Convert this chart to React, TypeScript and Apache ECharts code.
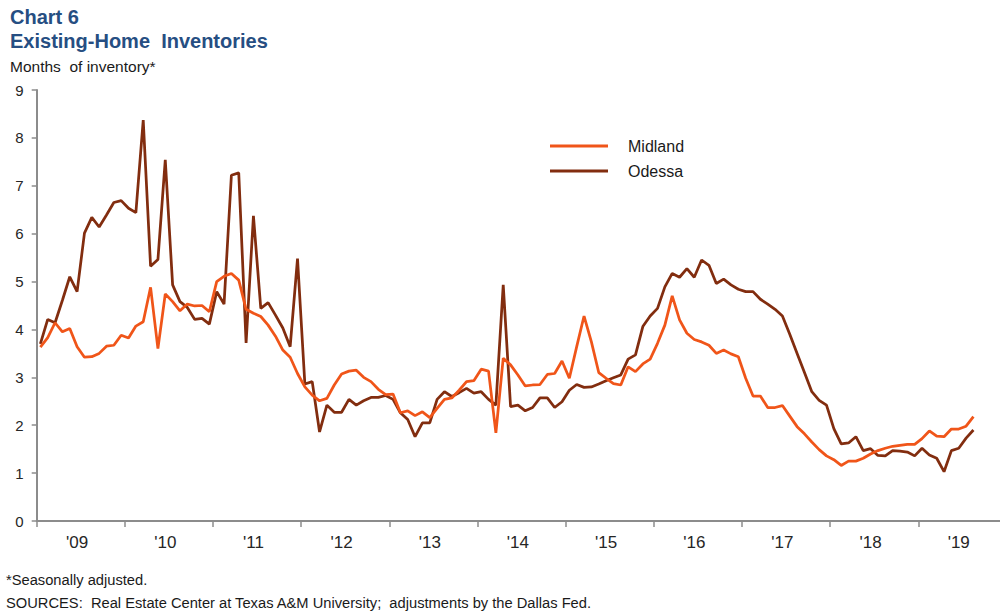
import React, { useEffect, useRef } from "react";
import * as echarts from "echarts";

// ---- Data ----
const years = [2009, 2010, 2011, 2012, 2013, 2014, 2015, 2016, 2017, 2018, 2019];
const monthNums = ["01", "02", "03", "04", "05", "06", "07", "08", "09", "10", "11", "12"];
const categories = years.flatMap((y) => monthNums.map((m) => `${y}-${m}`));

// Months of inventory, Jan 2009 – Aug 2019
const midland = [
  3.63, 3.83, 4.14, 3.95, 4.02, 3.64, 3.42, 3.43, 3.5, 3.65, 3.67, 3.88,
  3.82, 4.07, 4.16, 4.88, 3.6, 4.74, 4.58, 4.39, 4.53, 4.49, 4.5, 4.37,
  5.0, 5.11, 5.17, 5.03, 4.42, 4.34, 4.27, 4.09, 3.86, 3.57, 3.42, 3.08,
  2.8, 2.63, 2.51, 2.56, 2.84, 3.07, 3.13, 3.15, 3.0, 2.91, 2.75, 2.64,
  2.65, 2.26, 2.3, 2.2, 2.28, 2.16, 2.35, 2.54, 2.57, 2.73, 2.91, 2.93,
  3.17, 3.13, 1.84, 3.4, 3.26, 3.05, 2.82, 2.84, 2.85, 3.06, 3.08, 3.34,
  2.98, 3.64, 4.28, 3.74, 3.1, 2.98, 2.87, 2.84, 3.22, 3.12, 3.28, 3.38,
  3.71, 4.09, 4.7, 4.2, 3.92, 3.79, 3.74, 3.67, 3.5, 3.57, 3.49, 3.43,
  2.98, 2.61, 2.61, 2.37, 2.37, 2.41, 2.19, 1.97, 1.82, 1.65, 1.49, 1.36,
  1.28, 1.16, 1.25, 1.25, 1.31, 1.4, 1.47, 1.52, 1.56, 1.58, 1.6, 1.6,
  1.72, 1.88, 1.77, 1.76, 1.92, 1.92, 1.98, 2.18,
];

const odessa = [
  3.7, 4.21, 4.14, 4.61, 5.1, 4.79, 6.01, 6.34, 6.14, 6.39, 6.65, 6.69,
  6.53, 6.44, 8.37, 5.32, 5.46, 7.54, 4.93, 4.58, 4.46, 4.21, 4.23, 4.11,
  4.79, 4.53, 7.22, 7.27, 3.72, 6.37, 4.44, 4.56, 4.3, 4.03, 3.64, 5.48,
  2.86, 2.91, 1.86, 2.42, 2.27, 2.27, 2.54, 2.42, 2.51, 2.58, 2.58, 2.62,
  2.54, 2.26, 2.12, 1.76, 2.05, 2.05, 2.54, 2.7, 2.6, 2.68, 2.77, 2.67,
  2.7, 2.54, 2.42, 4.93, 2.39, 2.42, 2.3, 2.37, 2.57, 2.57, 2.37, 2.49,
  2.73, 2.85, 2.79, 2.8, 2.86, 2.93, 2.99, 3.05, 3.38, 3.47, 4.06, 4.28,
  4.44, 4.89, 5.17, 5.09, 5.27, 5.09, 5.45, 5.34, 4.96, 5.05, 4.93, 4.84,
  4.79, 4.79, 4.63, 4.53, 4.42, 4.28, 3.9, 3.5, 3.1, 2.7, 2.52, 2.42,
  1.93, 1.61, 1.63, 1.76, 1.47, 1.51, 1.37, 1.36, 1.47, 1.46, 1.44, 1.36,
  1.52, 1.38, 1.31, 1.03, 1.47, 1.52, 1.73, 1.9,
];

const seriesNames = ["Midland", "Odessa"];
const yTicks = { min: 0, max: 9, interval: 1 };

const FONT = "'Liberation Sans', Arial, Helvetica, sans-serif";
const MIDLAND_COLOR = "#F05519";
const ODESSA_COLOR = "#822D0F";
const TITLE_COLOR = "#264E82";
const AXIS_COLOR = "#8c8c8c";

export default function App() {
  const ref = useRef<HTMLDivElement>(null);

  useEffect(() => {
    if (!ref.current) return;
    const chart = echarts.init(ref.current, undefined, { renderer: "svg" });
    const option: any = {
      animation: false,
      backgroundColor: "#ffffff",
      grid: { left: 36.7, right: 3.5, top: 90, bottom: 93, containLabel: false },
      legend: {
        data: seriesNames,
        orient: "vertical",
        left: 545,
        top: 132,
        icon: "rect",
        itemWidth: 58,
        itemHeight: 3,
        itemGap: 7,
        textStyle: {
          fontFamily: FONT,
          fontSize: 16,
          color: "#1a1a1a",
          lineHeight: 18,
          padding: [0, 0, 0, 15],
        },
      },
      xAxis: {
        type: "category",
        data: categories,
        boundaryGap: true,
        axisLine: { show: true, lineStyle: { color: AXIS_COLOR, width: 2 } },
        axisTick: {
          show: true,
          length: 6,
          interval: (index: number) => index % 12 === 0,
          lineStyle: { color: AXIS_COLOR, width: 1.5 },
        },
        axisLabel: {
          interval: (index: number) => index % 12 === 5,
          formatter: (v: string) => "'" + v.slice(2, 4),
          fontFamily: FONT,
          fontSize: 17,
          color: "#262626",
          margin: 13,
        },
        splitLine: { show: false },
      },
      yAxis: {
        type: "value",
        min: yTicks.min,
        max: yTicks.max,
        interval: yTicks.interval,
        axisLine: { show: true, lineStyle: { color: AXIS_COLOR, width: 2 } },
        axisTick: { show: true, length: 5, lineStyle: { color: AXIS_COLOR, width: 1.5 } },
        axisLabel: {
          fontFamily: FONT,
          fontSize: 15,
          color: "#262626",
          margin: 13,
        },
        splitLine: { show: false },
      },
      series: [
        {
          name: "Odessa",
          type: "line",
          data: odessa,
          showSymbol: false,
          symbol: "none",
          lineStyle: { color: ODESSA_COLOR, width: 2.75 },
          itemStyle: { color: ODESSA_COLOR },
          z: 2,
        },
        {
          name: "Midland",
          type: "line",
          data: midland,
          showSymbol: false,
          symbol: "none",
          lineStyle: { color: MIDLAND_COLOR, width: 2.75 },
          itemStyle: { color: MIDLAND_COLOR },
          z: 3,
        },
      ],
      graphic: [
        {
          type: "text",
          x: 10,
          y: 17,
          style: { text: "Chart 6", font: `bold 20px ${FONT}`, fill: TITLE_COLOR, verticalAlign: "middle" },
        },
        {
          type: "text",
          x: 10,
          y: 41,
          style: {
            text: "Existing-Home  Inventories",
            font: `bold 20px ${FONT}`,
            fill: TITLE_COLOR,
            verticalAlign: "middle",
          },
        },
        {
          type: "text",
          x: 10,
          y: 66,
          style: { text: "Months  of inventory*", font: `15.5px ${FONT}`, fill: "#1a1a1a", verticalAlign: "middle" },
        },
        {
          type: "text",
          x: 6,
          y: 580,
          style: { text: "*Seasonally adjusted.", font: `14.7px ${FONT}`, fill: "#1a1a1a", verticalAlign: "middle" },
        },
        {
          type: "text",
          x: 6,
          y: 603,
          style: {
            text: "SOURCES:  Real Estate Center at Texas A&M University;  adjustments by the Dallas Fed.",
            font: `14.7px ${FONT}`,
            fill: "#1a1a1a",
            verticalAlign: "middle",
          },
        },
      ],
    };
    chart.setOption(option);
    return () => chart.dispose();
  }, []);

  return (
    <div
      style={{
        position: "absolute",
        left: 0,
        top: 0,
        width: 1000,
        height: 614,
        overflow: "hidden",
        background: "#ffffff",
      }}
    >
      <div ref={ref} style={{ width: 1010, height: 614 }} />
    </div>
  );
}
